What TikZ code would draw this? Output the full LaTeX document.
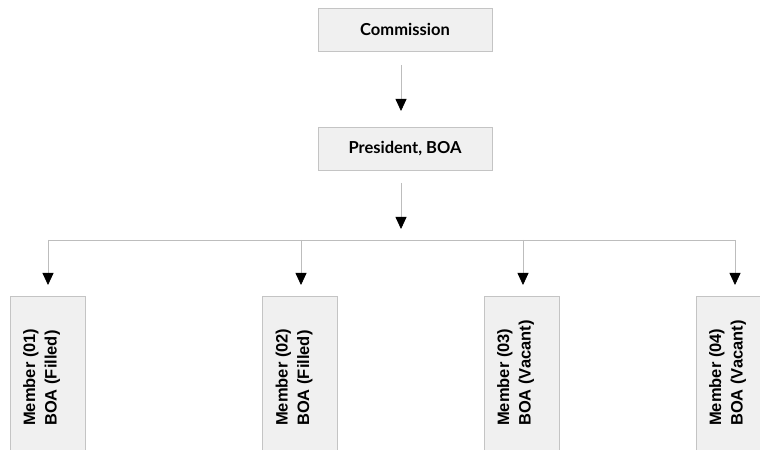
\documentclass[tikz,border=0pt]{standalone}
\usepackage{fontspec}
\setmainfont{Lato}
\newfontfamily\memfont{Liberation Sans}
\usetikzlibrary{arrows.meta,calc}
\definecolor{boxfill}{HTML}{F0F0F0}
\definecolor{boxline}{HTML}{C4C4C4}
\definecolor{conn}{HTML}{BDBDBD}
\begin{document}
\begin{tikzpicture}[x=1bp,y=-1bp,
  topbox/.style={draw=boxline,fill=boxfill,line width=0.9bp,minimum width=174bp,minimum height=43bp,inner sep=0pt,
    font=\fontsize{16.5bp}{19bp}\selectfont\bfseries},
  membox/.style={draw=boxline,fill=boxfill,line width=0.9bp,minimum width=75bp,minimum height=160bp,inner sep=0pt},
  memtxt/.style={rotate=90,anchor=west,inner sep=0pt,align=left,
    font=\memfont\fontsize{16.5bp}{21.5bp}\selectfont\bfseries},
  conn/.style={draw=conn,line width=0.8bp},
  arr/.style={conn,-{Triangle[width=11bp,length=12bp,color=black]}}
]
\useasboundingbox (0,0) rectangle (760,450);
\node[topbox] (com) at (405,29.5) {Commission};
\node[topbox] (pres) at (405,148.5) {President, BOA};
\node[membox] (m1) at (47.5,376) {};
\node[membox] (m2) at (300,376) {};
\node[membox] (m3) at (521.5,376) {};
\node[membox] (m4) at (733.5,376) {};
\node[memtxt] (t1) at ($(m1.center)+(-6,50)$) {Member (01)\\BOA (Filled)};
\node[memtxt] (t2) at ($(m2.center)+(-6,50)$) {Member (02)\\BOA (Filled)};
\node[memtxt] (t3) at ($(m3.center)+(-6,50)$) {Member (03)\\BOA (Vacant)};
\node[memtxt] (t4) at ($(m4.center)+(-6,50)$) {Member (04)\\BOA (Vacant)};
% arrows
\coordinate (a1s) at (401,65);
\coordinate (a1e) at (401,111);
\draw[arr] (a1s) -- (a1e);
\coordinate (a2s) at (401,183);
\coordinate (a2e) at (401,229);
\draw[arr] (a2s) -- (a2e);
\coordinate (hl) at (48,240);
\coordinate (hr) at (735,240);
\draw[conn] (hl) -- (hr);
\coordinate (b1) at (48,285);
\coordinate (b2) at (301,285);
\coordinate (b3) at (523,285);
\coordinate (b4) at (735,285);
\draw[arr] (hl) -- (b1);
\draw[arr] (301,240) -- (b2);
\draw[arr] (523,240) -- (b3);
\draw[arr] (hr) -- (b4);
\end{tikzpicture}
\end{document}
